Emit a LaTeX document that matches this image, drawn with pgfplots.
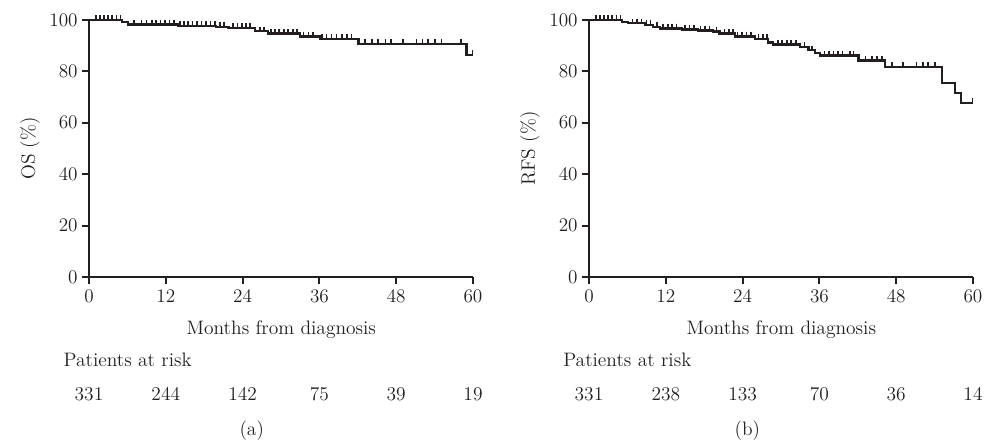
\documentclass[border=0pt]{standalone}
\usepackage{pgfplots}
\pgfplotsset{compat=1.18}
\definecolor{ink}{HTML}{231F20}
\newcommand\ff{\fontsize{14.6}{17}\selectfont}

\pgfplotstableread{
t v
0 100
5.1 99.1
6.1 98.3
14.0 97.7
19.9 97.3
21.8 96.8
25.9 95.6
28.0 94.7
33.0 93.6
36.1 92.6
42.1 90.8
59.0 86.4
60.0 86.4
}\osdata

\pgfplotstableread{
t v
1.1 100
1.7 100
2.3 100
3.0 100
3.6 100
4.3 100
4.9 100
7.0 98.3
8.2 98.3
9.0 98.3
9.8 98.3
10.5 98.3
11.2 98.3
11.9 98.3
12.6 98.3
13.3 98.3
14.2 97.7
14.8 97.7
15.5 97.7
16.2 97.7
16.9 97.7
17.6 97.7
18.3 97.7
19.0 97.7
19.7 97.7
20.5 97.3
21.1 97.3
22.5 96.8
23.2 96.8
23.9 96.8
24.5 96.8
25.2 96.8
26.7 95.6
27.3 95.6
28.4 94.7
29.1 94.7
29.7 94.7
30.5 94.7
31.1 94.7
31.9 94.7
32.5 94.7
33.5 93.6
34.3 93.6
35.0 93.6
36.4 92.6
37.1 92.6
37.9 92.6
38.7 92.6
39.5 92.6
40.3 92.6
41.0 92.6
43.1 90.8
44.2 90.8
45.2 90.8
46.3 90.8
47.2 90.8
49.1 90.8
51.2 90.8
52.1 90.8
53.0 90.8
54.1 90.8
55.1 90.8
58.1 90.8
59.9 86.4
}\oscens

\pgfplotstableread{
t v
0 100
5.1 99.1
6.1 98.7
8.8 98.2
10.0 97.4
11.1 96.7
14.5 96.3
17.0 95.9
19.4 95.5
20.4 94.7
22.8 93.6
25.9 92.6
28.0 91.2
28.8 90.5
33.0 89.4
34.3 88.2
35.3 87.1
36.1 86.2
42.1 84.2
46.3 81.8
55.1 75.6
57.2 71.7
58.1 67.8
60.0 67.8
}\rfsdata

\pgfplotstableread{
t v
1.1 100
1.7 100
2.3 100
3.0 100
3.6 100
4.3 100
4.9 100
6.8 98.7
7.5 98.7
8.2 98.7
9.0 98.2
9.6 98.2
10.6 97.4
11.6 96.7
12.3 96.7
13.0 96.7
13.7 96.7
15.0 96.3
15.7 96.3
16.4 96.3
17.4 95.9
18.1 95.9
18.8 95.9
19.9 95.5
21.2 94.7
21.9 94.7
22.5 94.7
23.2 93.6
23.9 93.6
24.6 93.6
25.3 93.6
26.5 92.6
27.2 92.6
27.8 92.6
29.5 90.5
30.2 90.5
30.9 90.5
31.6 90.5
32.3 90.5
33.7 89.4
34.8 88.2
36.8 86.2
37.5 86.2
38.2 86.2
38.9 86.2
39.6 86.2
40.8 86.2
41.3 86.2
43.2 84.2
44.2 84.2
45.0 84.2
45.8 84.2
47.3 81.8
49.1 81.8
51.2 81.8
52.2 81.8
53.0 81.8
54.1 81.8
59.9 67.8
}\rfscens

\pgfplotsset{
  kmaxis/.style={
    scale only axis,
    width=288pt, height=192.75pt,
    xmin=0, xmax=60, ymin=0, ymax=100,
    axis x line=bottom, axis y line=left,
    axis line style={-, line width=1.5pt, ink},
    xtick={0,12,24,36,48,60},
    ytick={0,20,40,60,80,100},
    tick align=outside,
    major tick length=5pt,
    tick style={line width=1.5pt, ink},
    ticklabel style={font=\ff, text=ink},
    xticklabel style={yshift=-1pt},
    clip=false,
  },
  kmline/.style={const plot, ink, line width=1.7pt, no marks},
  kmcens/.style={only marks, mark=|, mark size=1.8pt,
    mark options={ink, line width=1.2pt, yshift=1.8pt}},
}

\begin{document}
\begin{tikzpicture}
\useasboundingbox (0,0) rectangle (741pt,-333pt);

\begin{axis}[kmaxis, at={(66.75pt,-207.75pt)}, anchor=south west]
\addplot[kmline] table[x=t,y=v] {\osdata};
\addplot[kmcens] table[x=t,y=v] {\oscens};
\end{axis}

\begin{axis}[kmaxis, at={(441.75pt,-207.75pt)}, anchor=south west]
\addplot[kmline] table[x=t,y=v] {\rfsdata};
\addplot[kmcens] table[x=t,y=v] {\rfscens};
\end{axis}

% y labels
\node[rotate=90, font=\ff, text=ink] at (22.5pt,-111.4pt) {OS (\%)};
\node[rotate=90, font=\ff, text=ink] at (397.5pt,-111.4pt) {RFS (\%)};

% x labels
\node[anchor=base, font=\ff, text=ink] at (211pt,-250.5pt) {Months from diagnosis};
\node[anchor=base, font=\ff, text=ink] at (586pt,-250.5pt) {Months from diagnosis};

% patients at risk
\node[anchor=base west, font=\ff, text=ink, inner sep=0pt] at (47.5pt,-275pt) {Patients at risk};
\node[anchor=base west, font=\ff, text=ink, inner sep=0pt] at (422.25pt,-275pt) {Patients at risk};

\foreach \n [count=\k from 0] in {331,244,142,75,39,19}
  \node[anchor=base, font=\ff, text=ink] at ({66.75pt+\k*57.6pt},-300pt) {\n};
\foreach \n [count=\k from 0] in {331,238,133,70,36,14}
  \node[anchor=base, font=\ff, text=ink] at ({441.75pt+\k*57.6pt},-300pt) {\n};

\node[anchor=base, font=\ff, text=ink] at (188.8pt,-326.25pt) {(a)};
\node[anchor=base, font=\ff, text=ink] at (560.5pt,-326.25pt) {(b)};
\end{tikzpicture}
\end{document}
